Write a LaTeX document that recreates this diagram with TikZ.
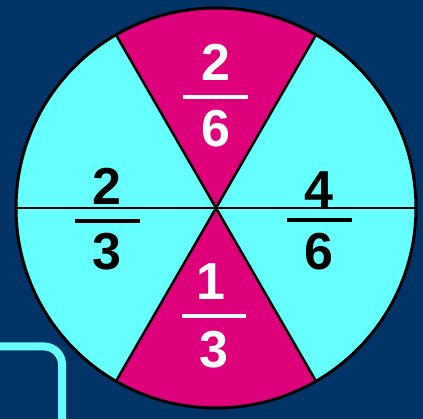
\documentclass[tikz,border=0pt]{standalone}
\usepackage{fontspec}
\setmainfont{Liberation Sans}
\definecolor{navy}{RGB}{0,51,102}
\definecolor{piecyan}{RGB}{102,255,255}
\definecolor{piemag}{RGB}{222,0,122}
\begin{document}
\begin{tikzpicture}[x=1pt, y=1pt,
    digit/.style={inner sep=0pt, font=\fontsize{52}{52}\selectfont\bfseries},
    bar/.style={line width=3.5pt}]
  \useasboundingbox (0,0) rectangle (423,419);
  \fill[navy] (0,0) rectangle (423,419);
  % rounded frame in the corner
  \draw[piecyan, line width=8pt, rounded corners=18pt] (-30,-30) rectangle (62,72.5);
  % the pie
  \coordinate (c) at (216,211);
  \fill[piecyan] (c) circle[radius=200];
  \fill[piemag] (c) -- ++(60:200) arc[start angle=60, end angle=120, radius=200] -- cycle;
  \fill[piemag] (c) -- ++(240:200) arc[start angle=240, end angle=300, radius=200] -- cycle;
  \draw[line width=2.5pt] (c) ++(0:200) -- ++(180:400);
  \draw[line width=2.5pt] (c) ++(60:200) -- ++(240:400);
  \draw[line width=2.5pt] (c) ++(120:200) -- ++(300:400);
  \draw[line width=3pt] (c) circle[radius=200];
  % fractions
  \node[digit, text=white] (topnum) at (216,357) {2};
  \node[digit, text=white] (topden) at (216,290) {6};
  \draw[bar, white] (183,322) -- (248,322);
  \node[digit] (leftnum) at (107,233) {2};
  \node[digit] (leftden) at (107,167) {3};
  \draw[bar] (75,198) -- (140,198);
  \node[digit] (rightnum) at (319,229) {4};
  \node[digit] (rightden) at (319,167) {6};
  \draw[bar] (287,199) -- (352,199);
  \node[digit, text=white] (botnum) at (211,137) {1};
  \node[digit, text=white] (botden) at (214,69) {3};
  \draw[bar, white] (182,103) -- (246,103);
\end{tikzpicture}
\end{document}
